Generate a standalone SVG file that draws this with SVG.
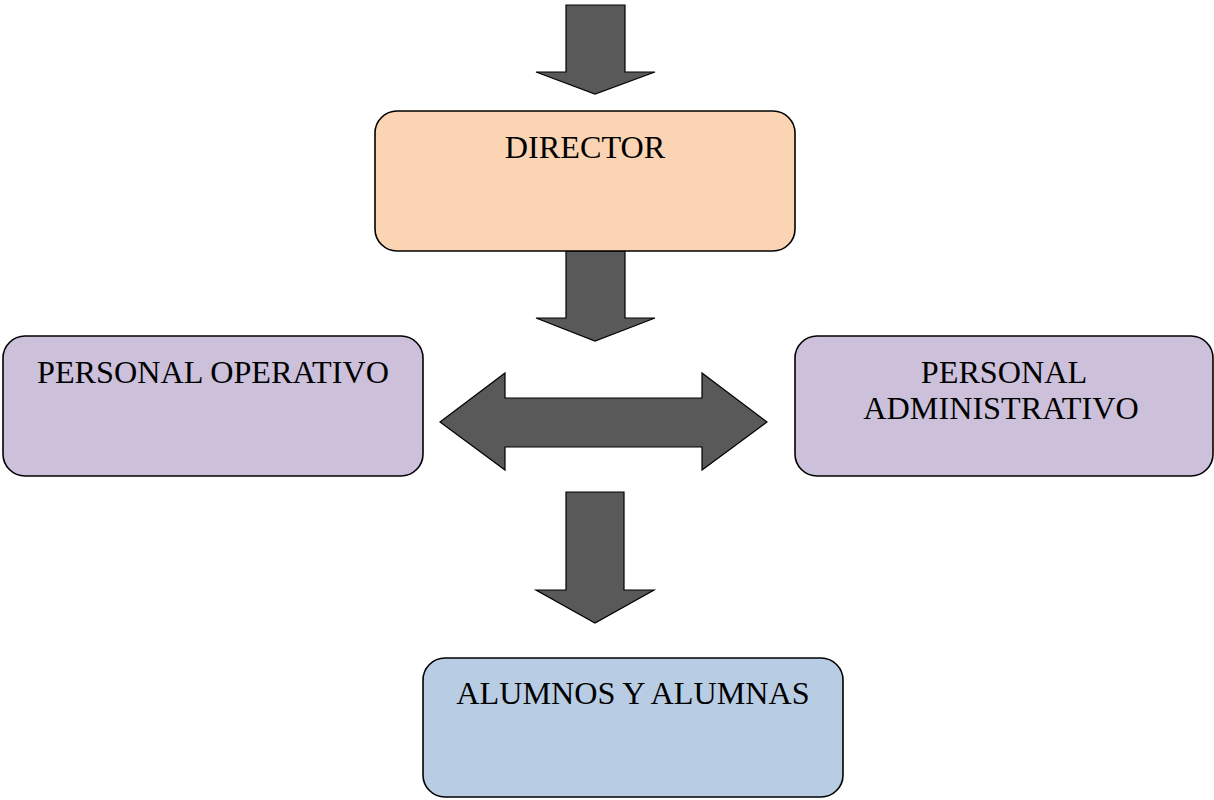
<svg xmlns="http://www.w3.org/2000/svg" width="1214" height="800" viewBox="0 0 1214 800">
  <style>
    .box { stroke: #000; stroke-width: 1.6; }
    .arrow { fill: #595959; stroke: #000; stroke-width: 1.2; stroke-linejoin: miter; }
    .lbl { font-family: "Liberation Serif", "Times New Roman", serif; font-size: 32.2px; fill: #000; text-anchor: middle; }
  </style>
  <rect width="1214" height="800" fill="#fff"/>
  <g id="connectors">
    <polygon class="arrow" points="566,5 625,5 625,72 655,72 595,94 536,72 566,72"/>
    <polygon class="arrow" points="566,251 625,251 625,318 655,318 595,341 536,318 566,318"/>
    <polygon class="arrow" points="440,422 505,373 505,398 702,398 702,373 767,422 702,470 702,447 505,447 505,470"/>
    <polygon class="arrow" points="566,492 624,492 624,590 654,590 595,623 536,590 566,590"/>
  </g>
  <g id="director">
    <rect class="box" x="375" y="111" width="420" height="140" rx="22" fill="#FBD4B4"/>
    <text class="lbl" x="585" y="158">DIRECTOR</text>
  </g>
  <g id="personal-operativo">
    <rect class="box" x="3" y="336" width="420" height="140" rx="22" fill="#CCC0DA"/>
    <text class="lbl" x="213" y="383">PERSONAL OPERATIVO</text>
  </g>
  <g id="personal-administrativo">
    <rect class="box" x="795" y="336" width="418" height="140" rx="22" fill="#CCC0DA"/>
    <text class="lbl" x="1004" y="383">PERSONAL</text>
    <text class="lbl" x="1001" y="419">ADMINISTRATIVO</text>
  </g>
  <g id="alumnos">
    <rect class="box" x="423" y="658" width="420" height="139" rx="22" fill="#B8CCE4"/>
    <text class="lbl" x="633" y="704">ALUMNOS Y ALUMNAS</text>
  </g>
</svg>
